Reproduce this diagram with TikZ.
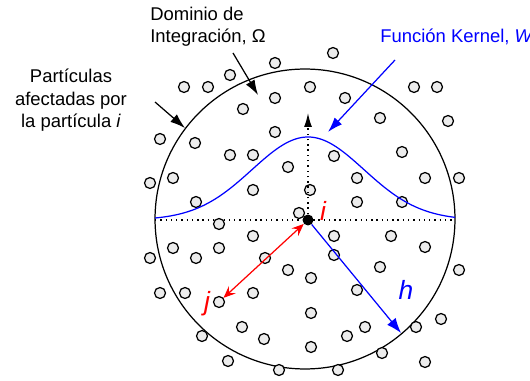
\documentclass[tikz,border=0pt]{standalone}
\usepackage{fontspec}
\setmainfont{Liberation Sans}
\usetikzlibrary{arrows.meta,positioning,calc}

\begin{document}
\begin{tikzpicture}[x=0.02cm,y=-0.02cm, every node/.style={font=\fontsize{10.5}{13}\selectfont},
    part/.style={draw, circle, fill=gray!15, line width=0.7pt, minimum size=0.22cm, inner sep=0pt},
    dotline/.style={line width=0.8pt, dash pattern=on 0.8pt off 2.2pt},
    pointer/.style={line width=0.7pt, -{Latex[length=3mm,width=2mm]}},
    tag/.style={font=\fontsize{15}{15}\selectfont\itshape, inner sep=0pt}]
    \useasboundingbox (0,0) rectangle (530,381);
    \coordinate (O) at (305,219);
    \coordinate (L) at (155,220);
    \coordinate (R) at (455,220);
    \coordinate (top) at (308,113);
    \coordinate (hend) at (401,333);
    \draw[line width=0.7pt] (O) circle [radius=3cm];
    \draw[dotline] (L) -- (R);
    \foreach \px/\py [count=\k] in {333/53, 275/63, 230/75, 184/87, 208/87, 310/87, 414/87, 437/87,
        275/98, 345/98, 243/109, 380/118, 448/121, 275/132, 160/139, 195/143, 402/152, 230/155,
        253/155, 334/156, 288/167, 173/178, 357/178, 425/178, 459/178, 150/183, 253/190, 310/190,
        196/202, 357/202, 402/202, 299/213, 219/224, 253/236, 334/236, 391/236, 173/248, 219/248,
        425/247, 150/258, 196/258, 265/258, 334/255, 380/267, 288/270, 459/270, 311/278, 357/290,
        160/293, 185/293, 253/293, 311/313, 441/319, 242/327, 365/327, 416/327, 202/336, 264/339,
        347/336, 311/347, 382/353, 228/361, 425/362, 279/370, 338/370}
        \node[part] (p\k) at (\px,\py) {};
    \node[part] (pj) at (219,302) {};
    \node[circle, fill=black, minimum size=0.22cm, inner sep=0pt] (i) at (308,220) {};
    \draw[dotline, -{Latex[length=2.8mm,width=1.6mm]}] (i) -- (top);
    \draw[blue, line width=0.7pt] plot[domain=155:455, samples=120] (\x, {220-83*exp(-0.5*((\x-308)/56)^2)});
    \draw[red, line width=0.7pt, {Stealth[length=2.4mm,width=2mm,inset=0.9mm]}-{Stealth[length=2.4mm,width=2mm,inset=0.9mm]}] (i) -- (pj);
    \draw[blue, line width=0.7pt, -{Latex[length=3mm,width=2.2mm]}] (i) -- (hend);

    \node[align=left, anchor=base west, inner sep=0pt] (dom) at (150,43) {Dominio de\\Integración, Ω};
    \node[align=center, anchor=base, inner sep=0pt] (afect) at (71,128) {Partículas\\afectadas por\\la partícula \textit{i}};
    \node[blue, anchor=base west, inner sep=0pt] (kern) at (380,43) {Función Kernel, \textit{W}};
    \node[tag, red] (ilab) at (323,211) {i};
    \node[tag, red] (jlab) at (207,304) {j};
    \node[tag, blue] (hlab) at (406,290) {h};

    \coordinate (d1) at (233,53);
    \coordinate (d2) at (258,95);
    \coordinate (a1) at (155,102);
    \coordinate (a2) at (185,128);
    \coordinate (k1) at (395,60);
    \coordinate (k2) at (328,132);
    \draw[pointer] (d1) -- (d2);
    \draw[pointer] (a1) -- (a2);
    \draw[pointer, blue] (k1) -- (k2);
\end{tikzpicture}
\end{document}
